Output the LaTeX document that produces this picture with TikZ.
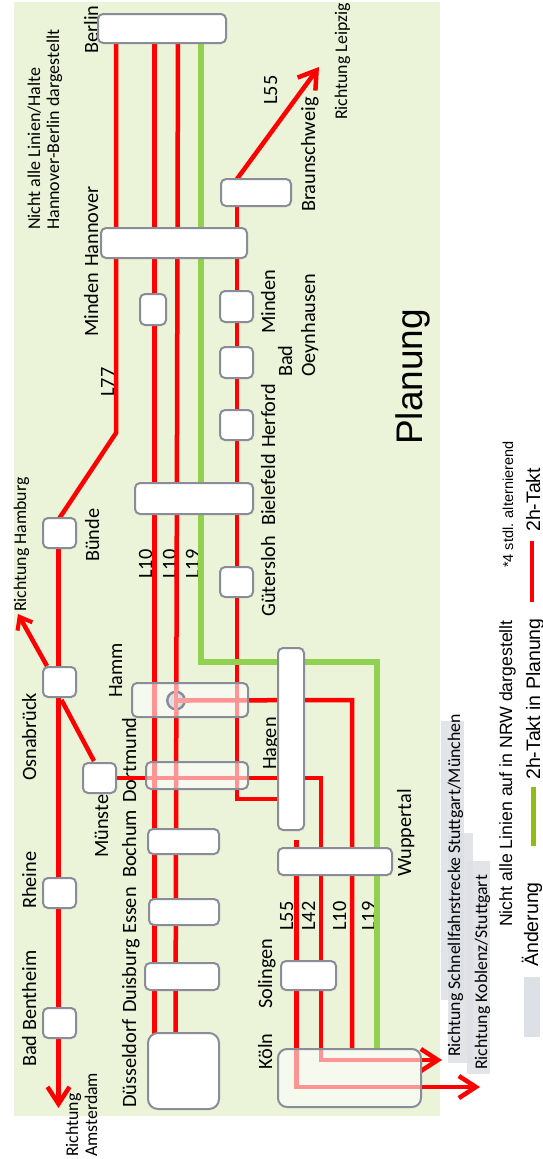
\documentclass[tikz,border=0pt]{standalone}
\usepackage{fontspec}
\usetikzlibrary{arrows.meta}
\setmainfont{Carlito}
\newfontfamily\arlfont{Liberation Sans}
\definecolor{bgc}{HTML}{EBF3D8}
\definecolor{greyc}{HTML}{DDE0E4}
\definecolor{outl}{HTML}{8A8D98}
\definecolor{linegreen}{HTML}{92D050}
\definecolor{legendgreen}{HTML}{92BB14}
\definecolor{palered}{HTML}{FF9A9A}
\tikzset{
 stationbox/.style={draw=outl,line width=2pt,fill=white,rounded corners=5pt,inner sep=0pt,outer sep=0pt},
 glassbox/.style={stationbox,fill opacity=.58},
 redline/.style={draw=red,line width=4.5pt,line join=miter},
 thinred/.style={draw=red,line width=4.5pt},
 greenline/.style={draw=linegreen,line width=6pt,line join=miter},
 paleline/.style={draw=palered,line width=4.5pt},
 bigarrow/.style={redline,-{Straight Barb[length=17pt,width=22pt,line width=4.5pt]}},
 smallarrow/.style={redline,-{Straight Barb[length=11pt,width=17pt,line width=4pt]}},
 lab/.style={rotate=90,anchor=base west,inner sep=0pt,font=\fontsize{20.3}{22}\selectfont},
 sublab/.style={lab,font=\fontsize{17.8}{20}\selectfont},
 notelab/.style={lab,font=\fontsize{18}{20}\selectfont},
 leg/.style={lab,font=\arlfont\fontsize{19.5}{22}\selectfont},
 legsmall/.style={lab,font=\arlfont\fontsize{17.7}{20}\selectfont},
}
\newcommand{\stbox}[6][stationbox]{%
 \pgfmathsetmacro\cxx{(#3+#5)/2}\pgfmathsetmacro\cyy{(#4+#6)/2}%
 \pgfmathsetmacro\www{#5-#3-2}\pgfmathsetmacro\hhh{#6-#4-2}%
 \node[#1,minimum width=\www pt,minimum height=\hhh pt] (#2) at (\cxx,\cyy) {};}
\begin{document}
\begin{tikzpicture}[x=1pt,y=-1pt]
\useasboundingbox (0,0) rectangle (542,1159);
\fill[white] (0,0) rectangle (542,1159);
\fill[bgc] (14,2) rectangle (440,1116);
% grey highlights
\fill[greyc,fill opacity=.85] (441,721) rectangle (464,1000);
\fill[greyc,fill opacity=.85] (448,833) rectangle (473,1063);
\fill[greyc,fill opacity=.85] (467,861) rectangle (490,1074);
\fill[greyc] (524,977) rectangle (540,1037);
% labels
\node[lab] (lBerlin) at (98,54) {Berlin};
\node[lab] (lHannover) at (98,267) {Hannover};
\node[lab] (lMindenA) at (98,337) {Minden};
\node[lab] (lLsevenseven) at (114,397) {L77};
\node[lab] (lLfiftyfiveT) at (277,105) {L55};
\node[sublab] (lLeipzig) at (347,120) {Richtung Leipzig};
\node[lab] (lBraunschweig) at (315,212) {Braunschweig};
\node[notelab] (lNoteA) at (40,230) {Nicht alle Linien/Halte};
\node[notelab] (lNoteB) at (59,230) {Hannover-Berlin dargestellt};
\node[lab] (lMindenB) at (275,334) {Minden};
\node[lab] (lBad) at (292,377) {Bad};
\node[lab] (lOeyn) at (315,377) {Oeynhausen};
\node[lab] (lHerford) at (275,448) {Herford};
\node[lab] (lBielefeld) at (275,526) {Bielefeld};
\node[lab] (lGuetersloh) at (275,617) {Gütersloh};
\node[lab] (lBuende) at (99,562) {Bünde};
\node[sublab] (lHamburg) at (26,612) {Richtung Hamburg};
\node[lab] (lLtenA) at (152,579) {L10};
\node[lab] (lLtenB) at (176,579) {L10};
\node[lab] (lLnineteenA) at (199,579) {L19};
\node[lab] (lHamm) at (122,698) {Hamm};
\node[lab] (lOsna) at (36,781) {Osnabrück};
\node[lab] (lDortmund) at (136,803) {Dortmund};
\node[lab] (lBochum) at (136,878) {Bochum};
\node[lab] (lEssen) at (136,934) {Essen};
\node[lab] (lDuisburg) at (136,1013) {Duisburg};
\node[lab] (lDuesseldorf) at (136,1108) {Düsseldorf};
\node[lab] (lMuenster) at (108,858) {Münster};
\node[lab] (lHagen) at (276,770) {Hagen};
\node[lab] (lWuppertal) at (411,877) {Wuppertal};
\node[lab] (lRheine) at (36,909) {Rheine};
\node[lab] (lBentheim) at (36,1067) {Bad Bentheim};
\node[lab] (lSolingen) at (272,1009) {Solingen};
\node[lab] (lKoeln) at (272,1070) {Köln};
\node[lab] (lLfiftyfive) at (293,931) {L55};
\node[lab] (lLfortytwo) at (315,931) {L42};
\node[lab] (lLtenC) at (346,931) {L10};
\node[lab] (lLnineteenB) at (375,931) {L19};
\node[sublab] (lSFS) at (460,1057) {Richtung Schnellfahrstrecke Stuttgart/München};
\node[sublab] (lKoblenz) at (487,1070) {Richtung Koblenz/Stuttgart};
\node[sublab] (lRichtung) at (78,1157) {Richtung};
\node[sublab] (lAmsterdam) at (97,1157) {Amsterdam};
\node[lab,font=\arlfont\fontsize{37}{40}\selectfont] (lPlanung) at (422,445) {Planung};
\node[legsmall] (lLegNote) at (512,927) {Nicht alle Linien auf in NRW dargestellt};
\node[lab,font=\arlfont\fontsize{14.5}{16}\selectfont] (lLegStar) at (513,568) {*4 stdl. alternierend};
\node[leg] (lLegA) at (540,532) {2h-Takt};
\node[leg] (lLegB) at (540,780) {2h-Takt in Planung};
\node[leg] (lLegC) at (538,967) {Änderung};
% station boxes (placed first so that connectors can refer to them; drawn on top below)
\begin{scope}[opacity=0]
\stbox{berlin}{97}{13}{227}{44}
\stbox{hannover}{100}{227}{248}{259}
\stbox{braunschweig}{220}{178}{292}{207}
\stbox{mindenA}{139}{293}{167}{326}
\stbox{mindenB}{219}{290}{254}{323}
\stbox{oeyn}{219}{346}{254}{379}
\stbox{herford}{219}{409}{254}{441}
\stbox{bielefeld}{134}{482}{254}{515}
\stbox{guetersloh}{219}{566}{254}{598}
\stbox{buende}{42}{517}{77}{549}
\stbox{osna}{42}{666}{77}{698}
\stbox{muenster}{82}{762}{117}{794}
\stbox{hamm}{131}{682}{249}{718}
\stbox{dortmund}{145}{761}{249}{790}
\stbox{bochum}{147}{828}{220}{855}
\stbox{essen}{148}{898}{220}{926}
\stbox{duisburg}{144}{962}{220}{991}
\stbox{duesseldorf}{147}{1032}{220}{1110}
\stbox{rheine}{42}{877}{77}{909}
\stbox{bentheim}{42}{1007}{77}{1039}
\stbox{solingen}{280}{960}{337}{991}
\stbox{koeln}{277}{1048}{422}{1108}
\stbox{wuppertal}{277}{847}{393}{876}
\stbox{hagen}{277}{647}{305}{831}
\end{scope}
% track columns and bends
\coordinate (cA) at (116,0);
\coordinate (cB) at (154.5,0);
\coordinate (cG) at (200.5,0);
\coordinate (cL) at (237,0);
\coordinate (cW) at (58.5,0);
\coordinate (knee) at (116,433);
\coordinate (topB) at (178,30);
\coordinate (botB) at (175.5,1040);
\coordinate (amsTip) at (58.5,1108);
\coordinate (hamTip) at (18,614);
\coordinate (leipTip) at (319,67);
\coordinate (greenA) at (200.5,662);
\coordinate (greenB) at (377,662);
\coordinate (bendL) at (237,799);
\coordinate (bendD) at (321,778);
\coordinate (bendH) at (352,700);
\coordinate (kTipA) at (442,1060);
\coordinate (kTipB) at (480,1087);
\coordinate (kBendA) at (321,1060);
\coordinate (kBendB) at (296.5,1087);
\coordinate (hammCore) at (176,700.5);
\coordinate (hammOut) at (190,700.5);
\coordinate (hammUp) at (176,689);
\coordinate (hammDown) at (176,712);
% connectors
\draw[redline] (cA |- berlin.center) -- (knee) -- (buende.north);
\draw[thinred] (cB |- berlin.center) -- (cB |- duesseldorf.center);
\draw[redline] (topB) -- (botB);
\draw[redline] (cL |- braunschweig.center) -- (bendL) -- (bendL -| hagen.center);
\draw[redline] (cL |- braunschweig.north) -- (leipTip) [bigarrow];
\draw[greenline] (cG |- berlin.center) -- (greenA) -- (greenB) -- (greenB |- koeln.north);
\draw[redline] (cW |- buende.center) -- (amsTip) [bigarrow];
\draw[smallarrow] (47,666) -- (hamTip);
\draw[redline] (osna.center) ++(2,18) -- (94,761);
\draw[redline] (muenster.center) -- (bendD) -- (kBendA) -- (kTipA) [bigarrow];
\draw[redline] (hammCore) -- (bendH) -- (bendH |- koeln.north);
\draw[redline] (296.5,840) -- (kBendB) -- (kTipB) [bigarrow];
% station boxes on top
\stbox{berlinT}{97}{13}{227}{44}
\stbox{hannoverT}{100}{227}{248}{259}
\stbox{braunschweigT}{220}{178}{292}{207}
\stbox{mindenAT}{139}{293}{167}{326}
\stbox{mindenBT}{219}{290}{254}{323}
\stbox{oeynT}{219}{346}{254}{379}
\stbox{herfordT}{219}{409}{254}{441}
\stbox{bielefeldT}{134}{482}{254}{515}
\stbox{gueterslohT}{219}{566}{254}{598}
\stbox{buendeT}{42}{517}{77}{549}
\stbox{osnaT}{42}{666}{77}{698}
\stbox{muensterT}{82}{762}{117}{794}
\stbox[glassbox]{hammT}{131}{682}{249}{718}
\stbox[glassbox]{dortmundT}{145}{761}{249}{790}
\stbox{bochumT}{147}{828}{220}{855}
\stbox{essenT}{148}{898}{220}{926}
\stbox{duisburgT}{144}{962}{220}{991}
\stbox[stationbox,rounded corners=10pt]{duesseldorfT}{147}{1032}{220}{1110}
\stbox{rheineT}{42}{877}{77}{909}
\stbox{bentheimT}{42}{1007}{77}{1039}
\stbox{solingenT}{280}{960}{337}{991}
\stbox[glassbox,rounded corners=9pt]{koelnT}{277}{1048}{422}{1108}
\stbox{wuppertalT}{277}{847}{393}{876}
\stbox{hagenT}{277}{647}{305}{831}
% Hamm interchange circle
\node[circle,draw=outl,line width=2.4pt,fill=greyc,minimum size=17.5pt,inner sep=0pt] (hammCircle) at (hammCore) {};
\draw[paleline] (hammUp) -- (hammDown);
\draw[paleline] (hammCircle.center) -- (hammOut);
% legend bars
\coordinate (gbA) at (533.5,846);
\coordinate (gbB) at (533.5,787);
\coordinate (rbA) at (532,602);
\coordinate (rbB) at (532,541);
\draw[draw=legendgreen,line width=5pt] (gbA) -- (gbB);
\draw[redline] (rbA) -- (rbB);
\end{tikzpicture}
\end{document}
